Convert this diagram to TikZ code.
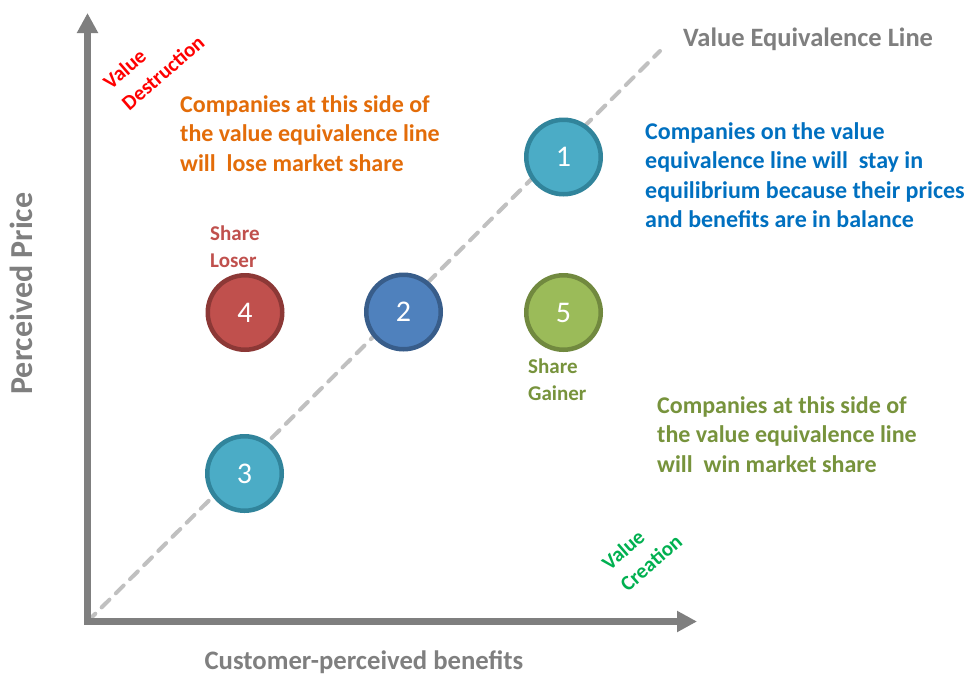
\documentclass[tikz,border=0pt]{standalone}
\usepackage{fontspec}
\setmainfont{Carlito}
\usetikzlibrary{arrows.meta}

\definecolor{axisgray}{HTML}{7F7F7F}
\definecolor{diaggray}{HTML}{C0C0C0}
\definecolor{tealfill}{HTML}{4BACC6}
\definecolor{tealedge}{HTML}{31849B}
\definecolor{bluefill}{HTML}{4F81BD}
\definecolor{blueedge}{HTML}{385D8A}
\definecolor{redfill}{HTML}{C0504D}
\definecolor{rededge}{HTML}{8C3836}
\definecolor{greenfill}{HTML}{9BBB59}
\definecolor{greenedge}{HTML}{71893F}
\definecolor{orangetext}{HTML}{E36C09}
\definecolor{bluetext}{HTML}{0070C0}
\definecolor{greentext}{HTML}{77933C}
\definecolor{creation}{HTML}{00B050}

\tikzset{
  axis/.style={draw=axisgray, line width=7pt, line join=miter,
    {Triangle[length=20pt,width=20pt]}-{Triangle[length=20pt,width=20pt]}},
  diag/.style={draw=diaggray, line width=4pt, line cap=round,
    dash pattern=on 11pt off 9pt},
  company/.style={circle, inner sep=0pt, minimum size=74.5pt, line width=4.5pt,
    text=white, font=\fontsize{30}{30}\selectfont},
  note/.style={inner sep=0pt, align=left, anchor=north west,
    font=\bfseries\fontsize{24}{29.5}\selectfont},
  tag/.style={inner sep=0pt, align=left, anchor=north west,
    font=\bfseries\fontsize{21}{27}\selectfont},
  slant/.style={inner sep=0pt, align=left, rotate=41,
    font=\bfseries\fontsize{21}{28}\selectfont},
  axislabel/.style={inner sep=0pt, text=axisgray, font=\bfseries}
}

\begin{document}
\begin{tikzpicture}[x=1pt,y=-1pt]
\useasboundingbox[fill=white] (0,0) rectangle (974,678);

% axes and the value equivalence line
\coordinate (O) at (87.5,621.5);
\coordinate (ytop) at (87.5,13);
\coordinate (xend) at (697,621.5);
\coordinate (veq) at (660,51);
\draw[diag] (O) -- (veq);
\draw[axis] (ytop) -- (O) -- (xend);

% companies
\node[company, fill=tealfill, draw=tealedge] (c1) at (563.5,157) {1};
\node[company, fill=bluefill, draw=blueedge] (c2) at (403.5,312) {2};
\node[company, fill=tealfill, draw=tealedge] (c3) at (244.5,473.5) {3};
\node[company, fill=redfill, draw=rededge] (c4) at (245,312.5) {4};
\node[company, fill=greenfill, draw=greenedge] (c5) at (563.5,312.5) {5};

% axis titles
\node[axislabel, anchor=base west, font=\bfseries\fontsize{26.5}{26.5}\selectfont] (veqlabel) at (683,46) {Value Equivalence Line};
\node[axislabel, anchor=base, font=\bfseries\fontsize{26.7}{26.7}\selectfont] (xlabel) at (364,669) {Customer-perceived benefits};
\node[axislabel, anchor=base, rotate=90, font=\bfseries\fontsize{32}{32}\selectfont] (ylabel) at (32,293.5) {Perceived Price};

% explanatory notes
\node[note, text=orangetext] (lose) at (180,95) {Companies at this side of\\the value equivalence line\\will\ \ lose market share};
\node[note, text=bluetext] (stay) at (645,122) {Companies on the value\\equivalence line will\ \ stay in\\equilibrium because their prices\\and benefits are in balance};
\node[note, text=greentext] (win) at (657,396) {Companies at this side of\\the value equivalence line\\will\ \ win market share};

\node[tag, text=redfill] (loser) at (210,226) {Share\\Loser};
\node[tag, text=greentext] (gainer) at (528,359) {Share\\Gainer};

\node[slant, text=red] (destruction) at (153.7,62) {Value\\Destruction};
\node[slant, text=creation] (creationlabel) at (641.8,552) {Value\\Creation};
\end{tikzpicture}
\end{document}
